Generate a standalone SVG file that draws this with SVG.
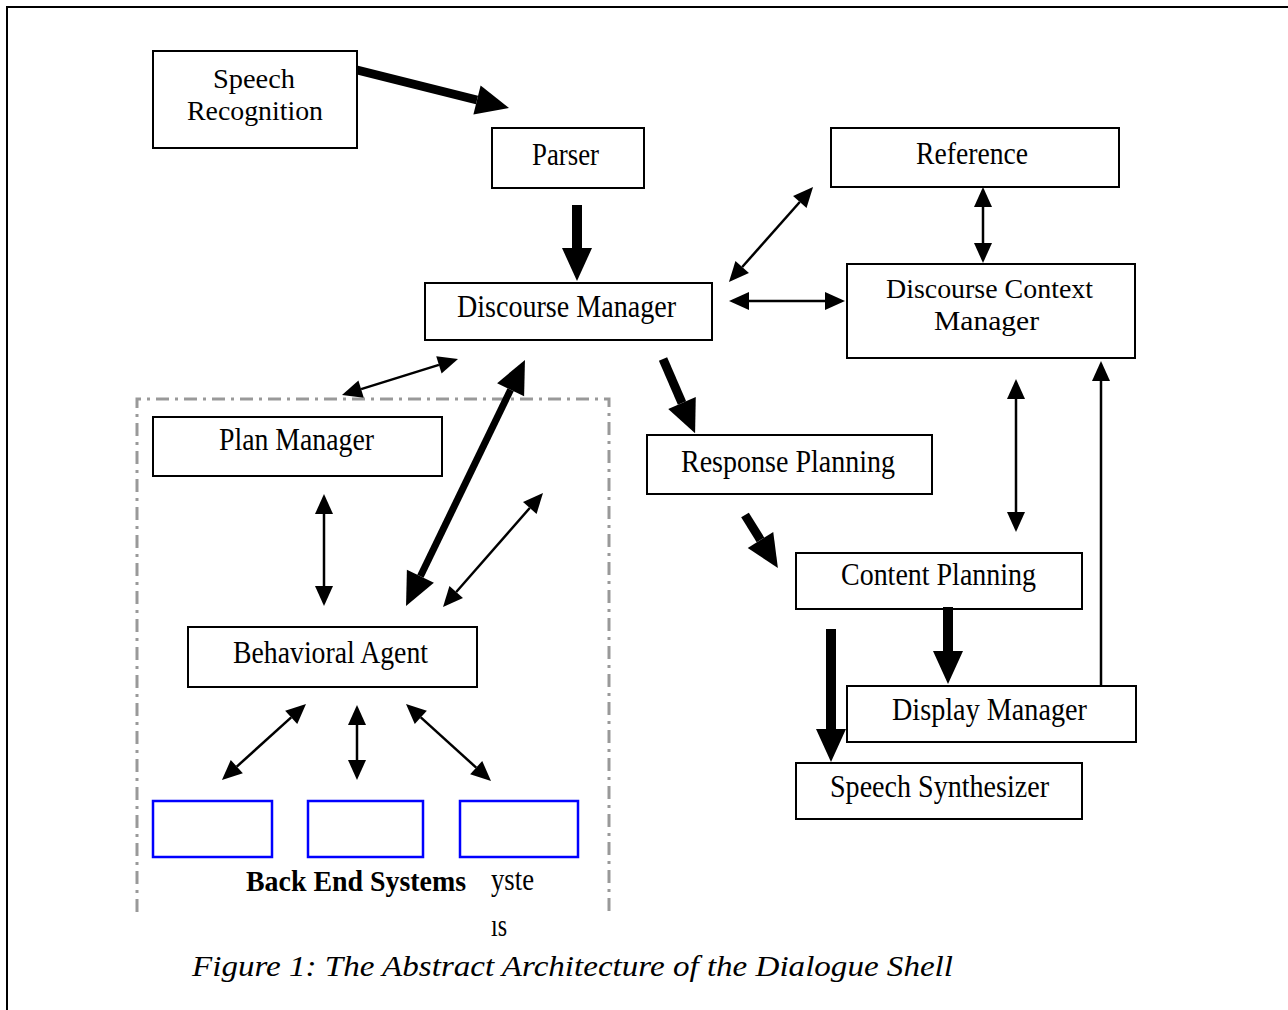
<svg xmlns="http://www.w3.org/2000/svg" width="1288" height="1010" viewBox="0 0 1288 1010">
<style>
.box{fill:#fff;stroke:#000;stroke-width:2}
.bbox{fill:none;stroke:#0000ff;stroke-width:2.5}
.t{font-family:"Liberation Serif","Times New Roman",serif;font-size:32px;fill:#000;text-anchor:middle}
.t2{font-size:27px}
.b{font-weight:bold;font-size:30px;text-anchor:start}
.thin{fill:none;stroke:#000;stroke-width:2.5}
.thick{fill:none;stroke:#000;stroke-width:9}
.thick7{fill:none;stroke:#000;stroke-width:7}
</style>
<defs>
<marker id="ht" markerUnits="userSpaceOnUse" markerWidth="40" markerHeight="40" refX="0" refY="0" orient="auto-start-reverse" overflow="visible">
<path d="M0,-9 L20,0 L0,9 z" fill="#000"/>
</marker>
<marker id="hk" markerUnits="userSpaceOnUse" markerWidth="60" markerHeight="60" refX="0" refY="0" orient="auto-start-reverse" overflow="visible">
<path d="M0,-15 L33,0 L0,15 z" fill="#000"/>
</marker>
</defs>
<rect width="1288" height="1010" fill="#fff"/>
<path d="M7,1010 V7 H1288" fill="none" stroke="#000" stroke-width="2"/>
<path d="M137,912 V399 H609 V912" fill="none" stroke="#999" stroke-width="3" stroke-dasharray="13,6,3,6"/>

<g id="speech-recognition"><rect class="box" x="153" y="51" width="204" height="97"/>
<text class="t t2" x="254" y="88" textLength="82" lengthAdjust="spacingAndGlyphs">Speech</text>
<text class="t t2" x="255" y="120" textLength="136" lengthAdjust="spacingAndGlyphs">Recognition</text></g>
<g id="parser"><rect class="box" x="492" y="128" width="152" height="60"/>
<text class="t" x="565.5" y="165" textLength="67" lengthAdjust="spacingAndGlyphs">Parser</text></g>
<g id="discourse-manager"><rect class="box" x="425" y="283" width="287" height="57"/>
<text class="t" x="566.5" y="317" textLength="219" lengthAdjust="spacingAndGlyphs">Discourse Manager</text></g>
<g id="reference"><rect class="box" x="831" y="128" width="288" height="59"/>
<text class="t" x="972" y="164" textLength="112" lengthAdjust="spacingAndGlyphs">Reference</text></g>
<g id="discourse-context-manager"><rect class="box" x="847" y="264" width="288" height="94"/>
<text class="t t2" x="989.5" y="298" textLength="207" lengthAdjust="spacingAndGlyphs">Discourse Context</text>
<text class="t t2" x="986.5" y="330" textLength="105" lengthAdjust="spacingAndGlyphs">Manager</text></g>
<g id="plan-manager"><rect class="box" x="153" y="417" width="289" height="59"/>
<text class="t" x="296.5" y="450" textLength="155" lengthAdjust="spacingAndGlyphs">Plan Manager</text></g>
<g id="response-planning"><rect class="box" x="647" y="435" width="285" height="59"/>
<text class="t" x="788" y="472" textLength="214" lengthAdjust="spacingAndGlyphs">Response Planning</text></g>
<g id="content-planning"><rect class="box" x="796" y="553" width="286" height="56"/>
<text class="t" x="938.5" y="585" textLength="195" lengthAdjust="spacingAndGlyphs">Content Planning</text></g>
<g id="display-manager"><rect class="box" x="847" y="686" width="289" height="56"/>
<text class="t" x="989.5" y="720" textLength="195" lengthAdjust="spacingAndGlyphs">Display Manager</text></g>
<g id="speech-synthesizer"><rect class="box" x="796" y="763" width="286" height="56"/>
<text class="t" x="939.5" y="797" textLength="219" lengthAdjust="spacingAndGlyphs">Speech Synthesizer</text></g>
<g id="behavioral-agent"><rect class="box" x="188" y="627" width="289" height="60"/>
<text class="t" x="330.5" y="663" textLength="195" lengthAdjust="spacingAndGlyphs">Behavioral Agent</text></g>
<g id="backend-1"><rect class="bbox" x="153" y="801" width="119" height="56"/></g>
<g id="backend-2"><rect class="bbox" x="308" y="801" width="115" height="56"/></g>
<g id="backend-3"><rect class="bbox" x="460" y="801" width="118" height="56"/></g>
<g id="backend-label">
<text class="t b" x="246" y="891" textLength="220" lengthAdjust="spacingAndGlyphs">Back End Systems</text>
<text class="t" x="491" y="890" textLength="43" lengthAdjust="spacingAndGlyphs" style="text-anchor:start">yste</text>
<text class="t" x="491" y="936" textLength="16" lengthAdjust="spacingAndGlyphs" style="text-anchor:start">ıs</text>
</g>
<g id="caption">
<text class="t" x="572.5" y="976" textLength="761" lengthAdjust="spacingAndGlyphs" style="font-style:italic;font-size:29px">Figure 1: The Abstract Architecture of the Dialogue Shell</text>
</g>

<g id="connectors">
<path class="thick" d="M357,70 L477,100" marker-end="url(#hk)"/>
<path class="thick" style="stroke-width:10" d="M577,205 L577,248" marker-end="url(#hk)"/>
<path class="thick" style="stroke-width:10" d="M948,607 L948,651" marker-end="url(#hk)"/>
<path class="thick" style="stroke-width:10" d="M831,629 L831,729" marker-end="url(#hk)"/>
<path class="thick" d="M663,359 L682,403" marker-end="url(#hk)"/>
<path class="thick" d="M745,515 L760.5,540" marker-end="url(#hk)"/>
<path class="thick7" d="M510.6,389.7 L420.4,576.3" marker-start="url(#hk)" marker-end="url(#hk)"/>
<path class="thin" d="M799.8,202 L742.2,267" marker-start="url(#ht)" marker-end="url(#ht)"/>
<path class="thin" d="M749,301 L825,301" marker-start="url(#ht)" marker-end="url(#ht)"/>
<path class="thin" d="M983,207 L983,243" marker-start="url(#ht)" marker-end="url(#ht)"/>
<path class="thin" d="M1016,399 L1016,512" marker-start="url(#ht)" marker-end="url(#ht)"/>
<path class="thin" d="M1101,686 L1101,381" marker-end="url(#ht)"/>
<path class="thin" d="M361.1,389.1 L438.9,364.9" marker-start="url(#ht)" marker-end="url(#ht)"/>
<path class="thin" d="M324,514 L324,586" marker-start="url(#ht)" marker-end="url(#ht)"/>
<path class="thin" d="M529.8,508 L456.2,592" marker-start="url(#ht)" marker-end="url(#ht)"/>
<path class="thin" d="M291.2,717.4 L236.8,766.6" marker-start="url(#ht)" marker-end="url(#ht)"/>
<path class="thin" d="M357,725 L357,760" marker-start="url(#ht)" marker-end="url(#ht)"/>
<path class="thin" d="M420.8,717.4 L476.2,767.6" marker-start="url(#ht)" marker-end="url(#ht)"/>
</g>
</svg>
